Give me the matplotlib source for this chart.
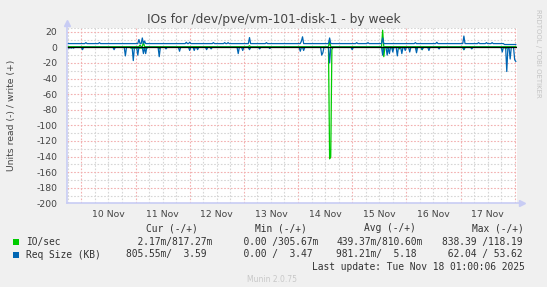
import numpy as np
import matplotlib.pyplot as plt
from matplotlib.patches import Rectangle

W, H = 547, 287

# time axis: hours since 10 Nov 00:00, half-hour samples (weekly rrd step)
t_start, t_end, step = -6.5, 192.5, 0.5
day_labels = ['10 Nov', '11 Nov', '12 Nov', '13 Nov', '14 Nov', '15 Nov', '16 Nov', '17 Nov']

# Req Size (KB), write (+): level from given hour, plus peaks
req_w_level_from = [-6.5, 187.5]
req_w_level = [4.8, 3.6]
req_w_peak_t = [2.0, 8.0, 25.5, 27.0, 28.0, 46.5, 48.0, 58.5, 63.5, 65.0, 74.5,
                82.0, 97.5, 98.0, 110.0, 122.0, 127.0, 133.5, 148.0, 157.5,
                169.5, 176.0, 179.5, 182.0]
req_w_peak_v = [6.0, 6.0, 10.0, 12.0, 8.0, 6.5, 6.5, 6.0, 6.0, 6.0, 12.5,
                6.0, 8.0, 13.5, 12.0, 6.0, 6.0, 12.0, 6.0, 6.5,
                14.5, 6.0, 6.0, 6.0]

# Req Size (KB), read (-)
req_r_level_from = [-6.5]
req_r_level = [0.0]
req_r_peak_t = [-5.5, -4.5, -3.5, 0.5, 14.5, 19.5, 23.0, 25.0, 27.5, 28.5, 34.5,
                37.5, 43.5, 48.0, 50.0, 51.5, 55.5, 57.5, 69.5, 71.5, 74.5,
                79.0, 83.5, 97.0, 98.5, 106.5, 107.0, 110.0, 120.0, 133.5,
                135.5, 136.5, 138.0, 140.0, 142.0, 143.5, 145.5, 148.5, 151.0,
                154.0, 158.5, 169.5, 173.0, 186.5, 188.5, 190.0, 192.0, 192.5]
req_r_peak_v = [-1.0, -1.0, -1.0, -3.0, -3.0, -11.0, -17.0, -10.0, -8.0, -8.0, -12.0,
                -2.0, -5.0, -4.0, -4.0, -3.0, -3.0, -2.0, -8.0, -4.0, -3.0,
                -2.0, -1.5, -5.0, -4.0, -10.0, -7.0, -20.0, -3.0, -10.0,
                -10.0, -8.0, -6.0, -11.0, -8.0, -4.0, -6.0, -7.0, -3.0,
                -4.0, -2.0, -3.0, -2.0, -6.0, -31.0, -15.0, -16.0, -18.0]

# IO/sec, write (+)
io_w_level_from = [-6.5]
io_w_level = [0.8]
io_w_peak_t = [26.0, 27.5, 74.5, 110.0, 133.5]
io_w_peak_v = [3.0, 7.0, 2.0, 8.0, 22.0]

# IO/sec, read (-)
io_r_level_from = [-6.5, 22.0, 29.5]
io_r_level = [0.0, -1.0, 0.0]
io_r_peak_t = [34.5, 74.5, 110.0, 110.5, 111.0, 134.0, 136.0, 138.0, 141.0,
               148.5, 151.0, 169.5, 188.0]
io_r_peak_v = [-2.0, -1.5, -143.0, -140.0, -3.0, -12.0, -2.0, -2.0, -2.0,
               -2.0, -3.0, -3.0, -2.0]

# legend table: (read, write) pairs
legend_names = ['IO/sec', 'Req Size (KB)']
legend_colors = ['#00CC00', '#0066B3']
cur_vals = [(2.17e-3, 0.81727), (0.80555, 3.59)]
min_vals = [(0.0, 0.30567), (0.0, 3.47)]
avg_vals = [(0.43937, 0.8106), (0.98121, 5.18)]
max_vals = [(838.39, 118.19), (62.04, 53.62)]

t = np.arange(t_start, t_end + step / 2, step)


def series(level_from, level, peak_t, peak_v):
    y = np.array(level)[np.searchsorted(level_from, t, side='right') - 1]
    idx = np.round((np.array(peak_t) - t_start) / step).astype(int)
    y[idx] = peak_v
    return y


def si(v):
    if v == 0:
        return '%6.2f ' % v
    if v < 1:
        return '%6.2fm' % (v * 1000)
    return '%6.2f ' % v


def px(x, y):
    return x / W, 1 - y / H


fig = plt.figure(figsize=(W / 100, H / 100), dpi=100, facecolor='#F0F0F0')
ax = fig.add_axes([66.7 / W, (H - 203.3) / H, 450 / W, 175 / H])
ax.set_facecolor('white')

ax.set_xlim(-6.5, 192.9)
ax.set_ylim(-200, 24.4)

# grid
dots = (0, (1.5, 1.5))
for h in np.arange(-6, 193, 6):
    if h % 24:
        ax.axvline(h, color='#d6d6d6', lw=0.8, ls=dots, zorder=1)
for h in np.arange(0, 193, 24):
    ax.axvline(h, color='#f2b0b0', lw=0.8, ls=dots, zorder=1)
for v in np.arange(-190, 25, 10):
    if v % 20:
        ax.axhline(v, color='#d6d6d6', lw=0.8, ls=dots, zorder=1)
for v in np.arange(-180, 25, 20):
    ax.axhline(v, color='#f2b0b0', lw=0.8, ls=dots, zorder=1)
ax.axhline(24.4, color='#d6d6d6', lw=0.8, ls=dots, zorder=1)

ax.plot(t, series(io_w_level_from, io_w_level, io_w_peak_t, io_w_peak_v),
        color='#00CC00', lw=0.9, zorder=3)
ax.plot(t, series(io_r_level_from, io_r_level, io_r_peak_t, io_r_peak_v),
        color='#00CC00', lw=0.9, zorder=3)
ax.plot(t, series(req_w_level_from, req_w_level, req_w_peak_t, req_w_peak_v),
        color='#0066B3', lw=0.9, zorder=4)
ax.plot(t, series(req_r_level_from, req_r_level, req_r_peak_t, req_r_peak_v),
        color='#0066B3', lw=0.9, zorder=4)
ax.axhline(0, color='black', lw=0.9, zorder=5)

# axes with arrows
for s in ax.spines.values():
    s.set_visible(False)
axis_col = '#c8ccf4'
ax.plot([0, 0], [0, 1.03], color=axis_col, lw=1.2, transform=ax.transAxes, clip_on=False, zorder=6)
ax.plot([0, 1.012], [0, 0], color=axis_col, lw=1.2, transform=ax.transAxes, clip_on=False, zorder=6)
ax.plot([0], [1.03], marker='^', ms=4, color=axis_col, transform=ax.transAxes, clip_on=False)
ax.plot([1.012], [0], marker='>', ms=4, color=axis_col, transform=ax.transAxes, clip_on=False)

ax.set_yticks(np.arange(-200, 21, 20))
ax.set_yticklabels([str(v) for v in range(-200, 21, 20)])
ax.set_xticks(np.arange(12, 192, 24))
ax.set_xticklabels(day_labels)
ax.tick_params(length=0, labelsize=6.7, labelcolor='#444444')
ax.tick_params(axis='y', pad=6.8)
ax.tick_params(axis='x', pad=4.5)

fig.text(*px(273.5, 19), 'IOs for /dev/pve/vm-101-disk-1 - by week',
         ha='center', va='center', fontsize=8.8, color='#444444')
fig.text(*px(12, 115.5), 'Units read (-) / write (+)', rotation=90,
         ha='center', va='center', fontsize=6.7, color='#444444')
fig.text(*px(537.7, 53.5), 'RRDTOOL / TOBI OETIKER', rotation=270,
         ha='center', va='center', fontsize=5, color='#c4c4c4')

mono = dict(family='DejaVu Sans Mono', fontsize=6.9, color='#333333', va='center')
for x, head in zip([146.3, 255.4, 364, 472], ['Cur (-/+)', 'Min (-/+)', 'Avg (-/+)', 'Max (-/+)']):
    fig.text(*px(x, 228.3), head, ha='left', **mono)

for i, name in enumerate(legend_names):
    y = 242 + i * 12.5
    fig.add_artist(Rectangle(px(13, y + 3), 6 / W, 6 / H, transform=fig.transFigure,
                             facecolor=legend_colors[i], edgecolor='none'))
    fig.text(*px(26, y), name, ha='left', **mono)
    for x, vals in zip([126, 231.5, 336.5, 442], [cur_vals, min_vals, avg_vals, max_vals]):
        r, w = vals[i]
        fig.text(*px(x, y), si(r) + '/' + si(w), ha='left', **mono)

fig.text(*px(525, 266.7), 'Last update: Tue Nov 18 01:00:06 2025', ha='right', **mono)
fig.text(*px(272, 280), 'Munin 2.0.75', ha='center', va='center',
         fontsize=5.5, color='#c8c8c8')

fig.savefig('out.png', dpi=100, facecolor=fig.get_facecolor())
